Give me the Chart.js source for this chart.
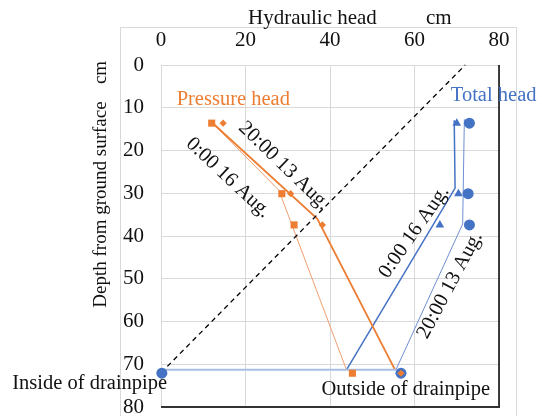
<!DOCTYPE html>
<html><head><meta charset="utf-8">
<script src="https://cdn.jsdelivr.net/npm/chart.js@4.4.1/dist/chart.umd.min.js"></script>
<style>html,body{margin:0;padding:0;background:#fff;}canvas{display:block;}</style>
</head><body>
<canvas id="c" width="539" height="416"></canvas>
<script>
// ---- data (hydraulic head in cm vs depth from ground surface in cm) ----
const markerDepths = [13.6, 30.1, 37.4];
const pressureHead2013 = [14.7, 30.7, 38.2];   // diamonds, 20:00 13 Aug.
const pressureHead0016 = [12.0, 28.6, 31.5];   // squares, 0:00 16 Aug.
const totalHead2013 = [73.0, 72.7, 73.0];      // circles, 20:00 13 Aug.
const totalHead0016 = [70.0, 70.4, 66.0];      // triangles, 0:00 16 Aug.

const pressureLine2013X = [12.0, 37.0, 55.4];
const pressureLine2013Y = [13.4, 36.0, 71.3];
const pressureLine0016X = [12.0, 27.9, 43.9];
const pressureLine0016Y = [13.4, 29.3, 71.3];
const totalLine0016X = [43.9, 69.6, 69.4];
const totalLine0016Y = [71.3, 28.8, 12.9];
const totalLine2013X = [55.6, 71.4, 71.8];
const totalLine2013Y = [71.3, 37.2, 12.7];
const drainLineX = [0, 55.6];
const drainLineY = [71.3, 71.3];
const elevationX = [0, 72];
const elevationY = [72, 0];

const drainDepth = 72.1;
const insideHead = 0.2;
const outsideHead = 56.8;
const outsideSquareHead = 45.3;

const xTicks = [0, 20, 40, 60, 80];
const yTicks = [0, 10, 20, 30, 40, 50, 60, 70, 80];

const xTitle = 'Hydraulic head';
const xUnit = 'cm';
const yTitle = 'Depth from ground surface';
const yUnit = 'cm';
const labelTexts = ['Pressure head', 'Total head', '20:00 13 Aug.', '0:00 16 Aug.', '0:00 16 Aug.', '20:00 13 Aug.', 'Inside of drainpipe', 'Outside of drainpipe'];
const labelX = [3.7, 68.6, 29.1, 15.9, 59.9, 68.4, -35.2, 38.0];
const labelY = [8.2, 7.25, 23.6, 26.4, 39.1, 51.5, 74.5, 75.9];

// ---- helpers ----
const pts = (xs, ys) => xs.map((x, i) => ({x, y: ys[i]}));
const ORANGE = '#ED7D31', BLUE = '#4472C4';
const FONT = "'Liberation Serif', 'Times New Roman', serif";

function lineDs(xs, ys, color, width, dash) {
  return {data: pts(xs, ys), showLine: true, borderColor: color, borderWidth: width,
    borderDash: dash || [], pointRadius: 0, fill: false, clip: false, order: 5, tension: 0};
}
function markDs(xs, ys, color, style, r, order) {
  return {data: pts(xs, ys), showLine: false, pointStyle: style, pointRadius: r,
    backgroundColor: color, borderColor: color, borderWidth: 0, clip: false, order: order};
}

const labelStyle = [
  {color: ORANGE, rot: 0, align: 'left'},
  {color: BLUE, rot: 0, align: 'left'},
  {color: '#111', rot: 44, align: 'center'},
  {color: '#111', rot: 43, align: 'center'},
  {color: '#111', rot: -55, align: 'center'},
  {color: '#111', rot: -62, align: 'center'},
  {color: '#111', rot: 0, align: 'left'},
  {color: '#111', rot: 0, align: 'left'}
];

const decor = {
  id: 'decor',
  beforeDraw(chart) {
    const c = chart.ctx;
    c.save();
    c.fillStyle = '#fff';
    c.fillRect(0, 0, chart.width, chart.height);
    c.strokeStyle = '#d9d9d9';
    c.lineWidth = 1;
    c.strokeRect(120.5, 27.5, 396, 420);
    c.restore();
  },
  afterDatasetsDraw(chart) {
    const c = chart.ctx, a = chart.chartArea;
    c.save();
    c.strokeStyle = '#000';
    c.lineWidth = 1.5;
    c.beginPath(); c.moveTo(a.right, a.top); c.lineTo(a.right, a.bottom + 1); c.stroke();
    c.strokeStyle = '#333';
    c.lineWidth = 2;
    c.beginPath(); c.moveTo(a.left, a.bottom); c.lineTo(a.right + 0.75, a.bottom); c.stroke();
    c.restore();
  },
  afterDraw(chart) {
    const c = chart.ctx, xs = chart.scales.x, ys = chart.scales.y;
    c.save();
    c.fillStyle = '#111';
    c.font = '21px ' + FONT;
    c.textBaseline = 'alphabetic';
    c.textAlign = 'left';
    c.fillText(xTitle, 248, 24);
    c.fillText(xUnit, 426, 24);
    c.save();
    c.font = '19px ' + FONT;
    c.translate(106, 0);
    c.rotate(-Math.PI / 2);
    c.textAlign = 'center';
    c.fillText(yTitle, -204.5, 0);
    c.fillText(yUnit, -72.5, 0);
    c.restore();
    c.font = '20.5px ' + FONT;
    c.textBaseline = 'middle';
    labelTexts.forEach((t, i) => {
      const st = labelStyle[i];
      const px = xs.getPixelForValue(labelX[i]);
      const py = ys.getPixelForValue(labelY[i]);
      c.save();
      c.translate(px, py);
      c.rotate(st.rot * Math.PI / 180);
      c.fillStyle = st.color;
      c.textAlign = st.align;
      c.fillText(t, 0, 0);
      c.restore();
    });
    c.restore();
  }
};

const datasets = [
  lineDs(elevationX, elevationY, '#000', 1.3, [5, 4]),
  lineDs(drainLineX, drainLineY, '#A9BEE4', 2),
  lineDs(pressureLine2013X, pressureLine2013Y, ORANGE, 1.8),
  lineDs(pressureLine0016X, pressureLine0016Y, '#F0A070', 1),
  lineDs(totalLine0016X, totalLine0016Y, BLUE, 1.5),
  lineDs(totalLine2013X, totalLine2013Y, '#6F8FD2', 1),
  markDs(pressureHead2013, markerDepths, ORANGE, 'rectRot', 3.6, 1),
  markDs(pressureHead0016, markerDepths, ORANGE, 'rect', 5, 2),
  markDs(totalHead2013, markerDepths, BLUE, 'circle', 5.5, 2),
  markDs(totalHead0016, markerDepths, BLUE, 'triangle', 5, 2),
  markDs([insideHead, outsideHead], [drainDepth, drainDepth], BLUE, 'circle', 5.5, 3),
  markDs([outsideHead], [drainDepth], ORANGE, 'rectRot', 3.6, 1),
  markDs([outsideSquareHead], [drainDepth], ORANGE, 'rect', 5, 2)
];

new Chart(document.getElementById('c'), {
  type: 'scatter',
  data: {datasets},
  options: {
    responsive: false,
    animation: false,
    devicePixelRatio: 1,
    layout: {padding: {left: 0, top: 0, right: 40, bottom: 9}},
    plugins: {legend: {display: false}, tooltip: {enabled: false}},
    scales: {
      x: {
        type: 'linear', position: 'top', min: 0, max: 80,
        afterBuildTicks: s => { s.ticks = xTicks.map(v => ({value: v})); },
        afterFit: s => { s.height = 65; s.paddingLeft = 0; s.paddingRight = 0; },
        grid: {color: '#d9d9d9', drawTicks: false, lineWidth: 1},
        border: {display: false},
        ticks: {padding: 12, color: '#111', font: {family: FONT, size: 21}, maxRotation: 0}
      },
      y: {
        type: 'linear', position: 'left', min: 0, max: 80, reverse: true,
        afterBuildTicks: s => { s.ticks = yTicks.map(v => ({value: v})); },
        afterFit: s => { s.width = 161; s.paddingTop = 0; s.paddingBottom = 0; },
        grid: {color: '#d9d9d9', drawTicks: false, lineWidth: 1},
        border: {display: false},
        ticks: {padding: 17, color: '#111', font: {family: FONT, size: 21}}
      }
    }
  },
  plugins: [decor]
});
</script>
</body></html>
